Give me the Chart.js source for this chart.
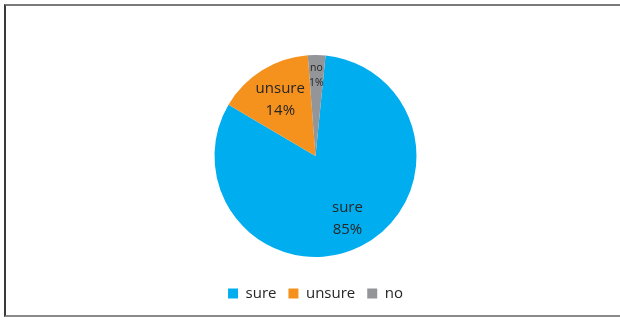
<!DOCTYPE html>
<html>
<head>
<meta charset="utf-8">
<script src="https://cdn.jsdelivr.net/npm/chart.js@4/dist/chart.umd.min.js"></script>
<style>
  html, body { margin: 0; padding: 0; background: #fff; }
  #wrap { position: relative; width: 620px; height: 320px; }
  #frame {
    position: absolute; left: 4px; top: 4px; width: 616px; height: 313px;
    border-top: 2px solid #7a7a7a; border-left: 2px solid #3a3a3a; border-bottom: 2px solid #8a8a8a;
    box-sizing: border-box; pointer-events: none;
  }
  canvas { position: absolute; left: 0; top: 0; }
</style>
</head>
<body>
<div id="wrap">
  <canvas id="pie" width="620" height="320"></canvas>
  <div id="frame"></div>
</div>
<script>
// データ
const categories = ['sure', 'unsure', 'no'];
const shares = [81.9, 15.3, 2.8];          // 扇形の大きさ
const percentLabels = ['85%', '14%', '1%']; // 図に書かれている割合
const colors = ['#00AEEF', '#F5921E', '#939598'];

// ラベルの位置（半径に対する比）とフォントサイズ
const labelRadius = [0.7, 0.66, 0.8];
const labelSize = [15, 15, 10.5];

const sliceLabels = {
  id: 'sliceLabels',
  afterDatasetsDraw(chart) {
    const ctx = chart.ctx;
    const meta = chart.getDatasetMeta(0);
    meta.data.forEach((arc, i) => {
      const p = arc.getProps(['x', 'y', 'startAngle', 'endAngle', 'outerRadius']);
      const mid = (p.startAngle + p.endAngle) / 2;
      const r = p.outerRadius * labelRadius[i];
      const cx = p.x + Math.cos(mid) * r;
      const cy = p.y + Math.sin(mid) * r;
      const size = labelSize[i];
      const gap = size * 1.45;
      ctx.save();
      ctx.font = size + 'px "Open Sans"';
      ctx.fillStyle = '#262626';
      ctx.textAlign = 'center';
      ctx.textBaseline = 'middle';
      ctx.fillText(categories[i], cx, cy - gap / 2);
      ctx.fillText(percentLabels[i], cx, cy + gap / 2);
      ctx.restore();
    });
  }
};

new Chart(document.getElementById('pie'), {
  type: 'pie',
  data: {
    labels: categories,
    datasets: [{
      data: shares,
      backgroundColor: colors,
      borderWidth: 0
    }]
  },
  options: {
    responsive: false,
    animation: false,
    rotation: 5.7,
    radius: 101,
    layout: { padding: { top: 38, bottom: 9, left: 11, right: 0 } },
    plugins: {
      legend: {
        position: 'bottom',
        labels: {
          boxWidth: 10,
          boxHeight: 10,
          padding: 12,
          color: '#262626',
          font: { family: 'Open Sans', size: 15 }
        }
      },
      tooltip: { enabled: false }
    }
  },
  plugins: [sliceLabels]
});
</script>
</body>
</html>
